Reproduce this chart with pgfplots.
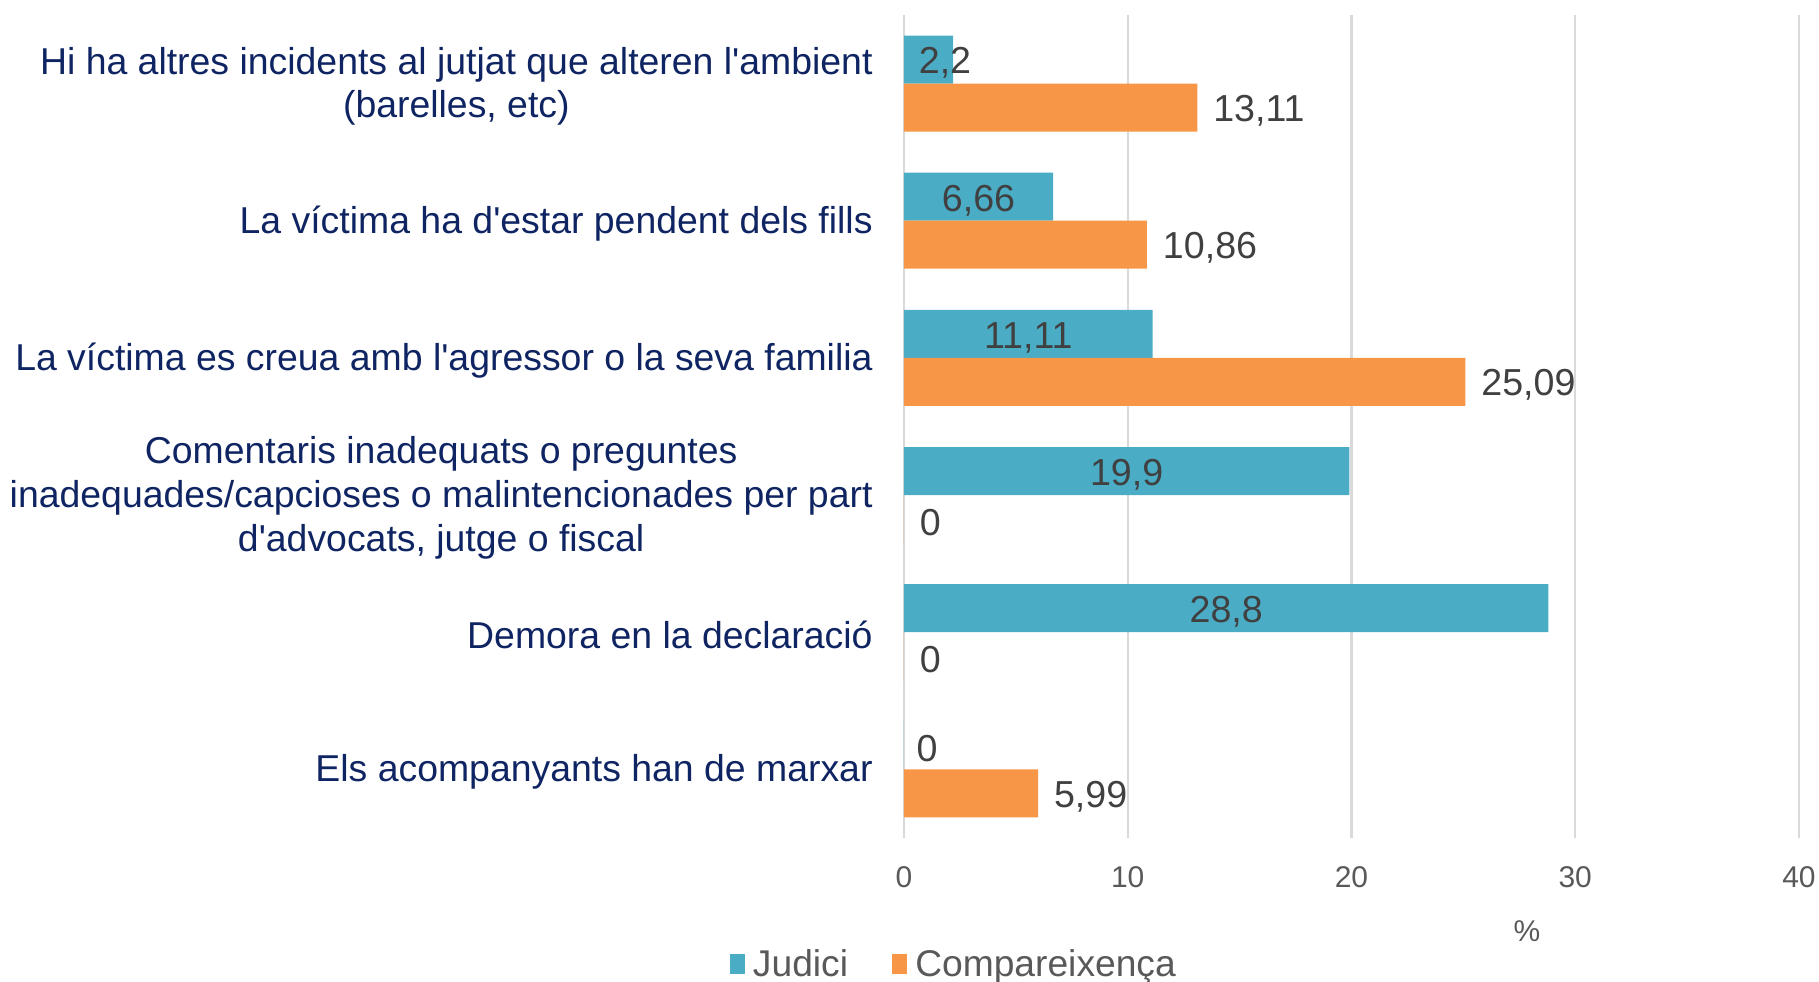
\documentclass[border=0pt]{standalone}
\usepackage{fontspec}
\setmainfont{Liberation Sans}
\usepackage{pgfplots}
\pgfplotsset{compat=1.18}
\definecolor{cblue}{HTML}{4BACC6}
\definecolor{corange}{HTML}{F79646}
\definecolor{navy}{HTML}{0F2462}
\definecolor{lbl}{HTML}{404040}
\definecolor{tickc}{HTML}{595959}
\definecolor{gridc}{HTML}{D9D9D9}
\newcommand{\q}{\textquotesingle}
\begin{document}
\begin{tikzpicture}
\begin{axis}[
  scale only axis, width=223.75pt, height=205.75pt,
  at={(0,0)}, anchor=south west,
  xbar, bar width=12pt,
  xmin=0, xmax=40, ymin=-0.5, ymax=5.5,
  xtick={0,10,20,30,40}, ytick={0,1,2,3,4,5},
  yticklabels={Els acompanyants han de marxar, Demora en la declaració, {Comentaris inadequats o preguntes\\inadequades/capcioses o malintencionades per part\\d\q advocats, jutge o fiscal}, La víctima es creua amb l\q agressor o la seva familia, La víctima ha d\q estar pendent dels fills, {Hi ha altres incidents al jutjat que alteren l\q ambient\\(barelles, etc)}},
  yticklabel style={align=center, font=\fontsize{9.35}{10.9}\selectfont, text=navy, inner sep=0pt, xshift=-7.65pt, yshift=-0.7pt},
  xticklabel style={anchor=base, yshift=-12.4pt, font=\fontsize{7.5}{9}\selectfont, text=tickc},
  /pgf/number format/assume math mode=true,
  axis line style={draw=none},
  major tick length=0pt,
  xmajorgrids, grid style={gridc, line width=0.6pt},
  xlabel={\%},
  xlabel style={at={(axis description cs:0.696,0)}, anchor=base, yshift=-26pt, font=\fontsize{7.5}{9}\selectfont, text=tickc},
  legend columns=2,
  legend style={at={(axis description cs:0.059,-0.155)}, anchor=center, draw=none, fill=none,
    font=\fontsize{9.3}{10}\selectfont, text=tickc,
    /tikz/every even column/.append style={column sep=9pt}},
  legend image code/.code={\fill[#1] (0.2pt,-2.2pt) rectangle (4.0pt,2.8pt);},
  point meta=x,
  nodes near coords={\pgfmathprintnumber[use comma]{\pgfplotspointmeta}},
  every node near coord/.append style={font=\fontsize{9.4}{11}\selectfont, text=lbl, inner sep=0pt},
  visualization depends on=rawx \as \rawx,
  clip=false,
]
\addplot[fill=cblue, draw=none, bar shift=6pt,
  every node near coord/.append style={anchor=center, yshift=-0.9pt,
    xshift={(-0.5*\rawx*5.59375+(\rawx<3)*(5.75-0.75*\rawx))*1pt}}]
  coordinates {(0,0) (28.8,1) (19.9,2) (11.11,3) (6.66,4) (2.2,5)};
\addlegendentry{Judici}
\addplot[fill=corange, draw=none, bar shift=-6pt,
  every node near coord/.append style={anchor=west, yshift=-0.8pt, xshift=3.8pt}]
  coordinates {(5.99,0) (0,1) (0,2) (25.09,3) (10.86,4) (13.11,5)};
\addlegendentry{Compareixença}
\end{axis}
\pgfresetboundingbox
\path[use as bounding box] (-226pt,-36pt) rectangle (228.75pt,209.5pt);
\end{tikzpicture}
\end{document}
